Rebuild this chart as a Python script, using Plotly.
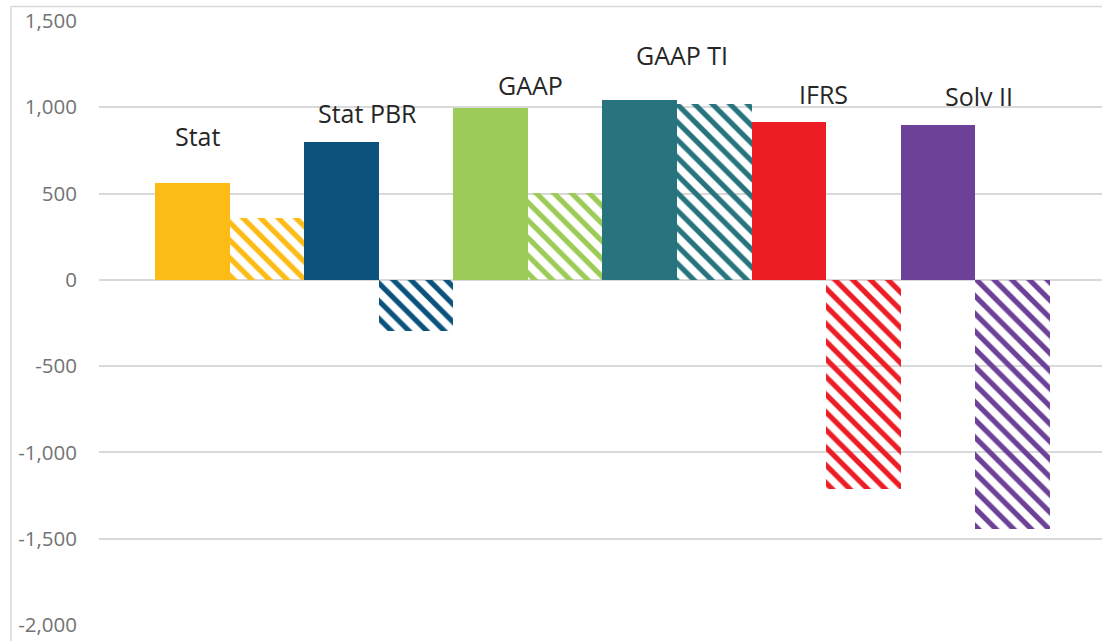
import plotly.graph_objects as go

# Reporting bases and the two measures shown for each
categories = ["Stat", "Stat PBR", "GAAP", "GAAP TI", "IFRS", "Solv II"]
solid_values = [560, 800, 995, 1045, 915, 900]
hatched_values = [360, -295, 505, 1020, -1210, -1445]
y_tick_values = [-2000, -1500, -1000, -500, 0, 500, 1000, 1500]
y_tick_labels = [f"{v:,}" for v in y_tick_values]

colors = ["#FCBB15", "#0B537D", "#9CCB57", "#27747E", "#EC1D25", "#6D4197"]

# label placement per category: (horizontal shift in px, height in axis units)
label_layout = [(-32, 834), (-11, 965), (3, 1127), (5, 1301), (-3, 1078), (4, 1063)]

fig = go.Figure()
fig.add_trace(go.Bar(
    x=categories, y=solid_values,
    marker=dict(color=colors, line=dict(width=0)),
    hoverinfo="x+y", showlegend=False,
))
fig.add_trace(go.Bar(
    x=categories, y=hatched_values,
    marker=dict(
        color=colors, line=dict(width=0),
        pattern=dict(shape="\\", size=12.5, solidity=0.42,
                     fillmode="replace", bgcolor="white"),
    ),
    hoverinfo="x+y", showlegend=False,
))

for cat, (dx, ypos) in zip(categories, label_layout):
    fig.add_annotation(
        x=cat, y=ypos, text=cat, showarrow=False, xshift=dx,
        xanchor="center", yanchor="middle",
        font=dict(family="Open Sans", size=25, color="#262626"),
    )

# outer chart frame (top and left edges)
frame = dict(color="#D9D9D9", width=1.5)
fig.add_shape(type="line", xref="paper", yref="paper",
              x0=-0.0877, x1=1.01, y0=1.024, y1=1.024, line=frame)
fig.add_shape(type="line", xref="paper", yref="paper",
              x0=-0.0877, x1=-0.0877, y0=1.024, y1=-0.05, line=frame)

fig.update_layout(
    width=1102, height=641,
    margin=dict(l=99, r=0, t=21, b=16),
    paper_bgcolor="white", plot_bgcolor="white",
    barmode="group", bargap=0, bargroupgap=0,
    font=dict(family="Open Sans"),
)
fig.update_xaxes(
    type="category", range=[-0.876, 5.85],
    showticklabels=False, showgrid=False, zeroline=False, showline=False,
)
fig.update_yaxes(
    range=[-2000, 1500], tickvals=y_tick_values, ticktext=y_tick_labels,
    showgrid=True, gridcolor="#D9D9D9", gridwidth=1.5,
    zeroline=False, showline=False, ticks="",
    ticklabelstandoff=21,
    tickfont=dict(family="Open Sans", size=20.5, color="#737373"),
)

fig.write_html("out.html")
